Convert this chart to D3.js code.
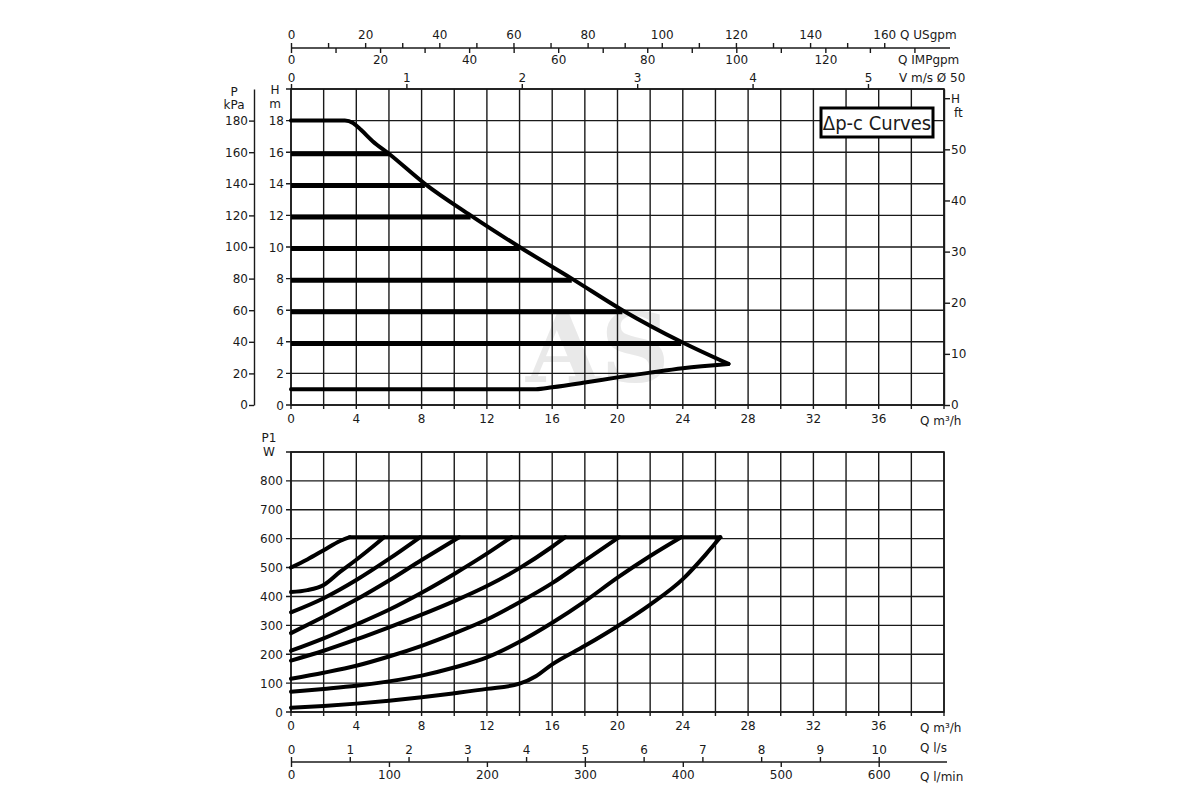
<!DOCTYPE html>
<html>
<head>
<meta charset="utf-8">
<script src="https://cdn.jsdelivr.net/npm/d3@7"></script>
<style>
  body { margin: 0; background: #fff; }
  svg text { font-family: "DejaVu Sans", sans-serif; font-size: 12px; fill: #1a1a1a; }
  .axis path, .axis line { stroke: #1a1a1a; stroke-width: 1.4; }
  .grid line { stroke: #1a1a1a; stroke-width: 1.4; }
  .curve { fill: none; stroke: #000; stroke-linejoin: round; stroke-linecap: round; }
</style>
</head>
<body>
<svg id="chart" width="1200" height="800"></svg>
<script>
// --- data ---
const qGrid = d3.range(0, 41, 2);              // m3/h, grid every 2
const qLabels = d3.range(0, 37, 4);
const headGrid = d3.range(0, 21, 2);           // m
const headLabels = d3.range(0, 19, 2);
const kpaLabels = d3.range(0, 181, 20);
const ftLabels = d3.range(0, 61, 10);
const usgpmTicks = d3.range(0, 161, 10);
const impgpmTicks = d3.range(0, 141, 10);
const velocityTicks = [0, 1, 2, 3, 4, 5];
const powerGrid = d3.range(0, 901, 100);       // W
const powerLabels = d3.range(0, 801, 100);
const lsTicks = d3.range(0, 11, 1);
const lminTicks = d3.range(0, 601, 100);

// constant-pressure set lines (H m) and where they meet the max curve (Q m3/h)
const setHeads = [15.9, 13.9, 11.9, 9.9, 7.9, 5.9, 3.9];
const setEnds = [6, 8.2, 11, 14, 17.2, 20.3, 23.9];

const headMax = [[0, 18], [3.3, 18], [3.8, 17.85], [4.3, 17.4], [5, 16.7], [6, 15.9],
  [8.2, 14], [11, 12], [14, 10], [17.2, 8], [20.3, 6], [23.9, 4], [26.8, 2.6]];
const headMin = [[0, 1], [15, 1], [16, 1.12], [18, 1.42], [20, 1.75], [22, 2.05],
  [24, 2.33], [26.8, 2.6]];

// P1 curves, one per set line (W)
const p1At18 = [[0, 500], [1, 528], [2, 560], [3, 592], [3.6, 605]];
const p1At16 = [[0, 415], [1, 422], [2, 440], [3, 485], [4, 527], [5, 572], [5.7, 605]];
const p1At14 = [[0, 345], [2, 394], [4, 457], [6, 530], [7.9, 605]];
const p1At12 = [[0, 273], [2, 330], [4, 389], [6, 455], [8, 526], [10.3, 605]];
const p1At10 = [[0, 212], [2, 255], [4, 303], [6, 354], [8, 413], [10, 478], [12, 548], [13.5, 605]];
const p1At8 = [[0, 178], [2, 212], [4, 251], [6, 293], [8, 337], [10, 384], [12, 436], [14, 498],
  [16, 572], [16.8, 605]];
const p1At6 = [[0, 115], [2, 136], [4, 160], [6, 192], [8, 229], [10, 272], [12, 320], [14, 380],
  [16, 446], [18, 524], [20.1, 605]];
const p1At4 = [[0, 70], [2, 80], [4, 91], [6, 106], [8, 126], [10, 154], [12, 189], [14, 243],
  [16, 309], [18, 383], [20, 465], [22, 540], [23.9, 605]];
const p1Min = [[0, 15], [2, 21], [4, 29], [6, 39], [8, 51], [10, 65], [12, 80], [14, 98],
  [15, 124], [16, 165], [18, 229], [20, 297], [22, 372], [24, 460], [25.4, 545], [26.3, 605]];
const p1Max = [[3.6, 605], [26.3, 605]];
const p1Curves = [p1At18, p1At16, p1At14, p1At12, p1At10, p1At8, p1At6, p1At4, p1Min];

// unit factors (per m3/h)
const M3H_PER_USGPM = 0.22712;
const M3H_PER_IMPGPM = 0.27277;
const M3H_PER_MS_D50 = 7.0686;   // 1 m/s in a 50 mm pipe
const FT_AT_TOP = 61.8;          // ft scale as printed on the right edge

// --- layout ---
const X0 = 291, X1 = 944;
const TOP_Y0 = 405, TOP_Y1 = 89;
const BOT_Y0 = 712, BOT_Y1 = 452;
const FLOW_AXIS_Y = 48;
const LS_AXIS_Y = 762;
const KPA_AXIS_X = 254;

const svg = d3.select('#chart');

const x = d3.scaleLinear().domain([0, 40]).range([X0, X1]);
const yH = d3.scaleLinear().domain([0, 20]).range([TOP_Y0, TOP_Y1]);
const yKpa = d3.scaleLinear().domain([0, 200]).range([TOP_Y0, TOP_Y1]);
const yFt = d3.scaleLinear().domain([0, FT_AT_TOP]).range([TOP_Y0, TOP_Y1]);
const yP = d3.scaleLinear().domain([0, 900]).range([BOT_Y0, BOT_Y1]);
const xUs = d3.scaleLinear().domain([0, 40 / M3H_PER_USGPM]).range([X0, X1]);
const xImp = d3.scaleLinear().domain([0, 40 / M3H_PER_IMPGPM]).range([X0, X1]);
const xV = d3.scaleLinear().domain([0, 40 / M3H_PER_MS_D50]).range([X0, X1]);
const xLs = d3.scaleLinear().domain([0, 40 / 3.6]).range([X0, X1]);
const xLmin = d3.scaleLinear().domain([0, 40 / 0.06]).range([X0, X1]);

function styleAxis(g) {
  g.attr('class', 'axis');
  g.selectAll('text').attr('fill', '#1a1a1a').attr('font-family', 'DejaVu Sans').attr('font-size', 12);
}

function grid(yScale, yValues, y0, y1) {
  const g = svg.append('g').attr('class', 'grid');
  g.selectAll('.v').data(qGrid).join('line')
    .attr('x1', d => x(d)).attr('x2', d => x(d))
    .attr('y1', y0 + 4).attr('y2', y1);
  g.selectAll('.h').data(yValues).join('line')
    .attr('x1', X0 - 5).attr('x2', X1)
    .attr('y1', d => yScale(d)).attr('y2', d => yScale(d));
  return g;
}

// faint watermark, kept behind the marks
svg.append('text').attr('x', 598).attr('y', 382).attr('text-anchor', 'middle')
  .style('font-family', '"DejaVu Serif", serif').style('font-size', '96px').style('font-weight', 'bold')
  .style('fill', '#cfcfcf').style('opacity', 0.45).text('AS');

// ---------- top chart ----------
grid(yH, headGrid, TOP_Y0, TOP_Y1);

// left H m labels
svg.append('g').selectAll('text').data(headLabels).join('text')
  .attr('x', X0 - 7).attr('y', d => yH(d) + 4.5)
  .attr('text-anchor', 'end').text(d => d);
svg.append('text').attr('x', X0 - 16).attr('y', yH(20) + 5).attr('text-anchor', 'middle').text('H');
svg.append('text').attr('x', X0 - 16).attr('y', yH(20) + 19).attr('text-anchor', 'middle').text('m');

// kPa axis
svg.append('g')
  .attr('transform', `translate(${KPA_AXIS_X},0)`)
  .call(d3.axisLeft(yKpa).tickValues(kpaLabels).tickSize(5).tickSizeOuter(0).tickPadding(1))
  .call(styleAxis);
svg.append('text').attr('x', 234).attr('y', 96).attr('text-anchor', 'middle').text('P');
svg.append('text').attr('x', 234).attr('y', 109).attr('text-anchor', 'middle').text('kPa');

// right ft axis
svg.append('g')
  .attr('transform', `translate(${X1},0)`)
  .call(d3.axisRight(yFt).tickValues(ftLabels).tickSize(6).tickSizeOuter(0).tickPadding(1)
    .tickFormat(d => (d === 60 ? 'H' : d)))
  .call(styleAxis);
svg.append('text').attr('x', 954).attr('y', 117).text('ft');

// bottom Q axis of top chart
svg.append('g').selectAll('text').data(qLabels).join('text')
  .attr('x', d => x(d)).attr('y', TOP_Y0 + 18).attr('text-anchor', 'middle').text(d => d);
svg.append('text').attr('x', 920).attr('y', TOP_Y0 + 20).html('Q m³/h');

// flow axes on top (US gpm up, IMP gpm down)
svg.append('g')
  .attr('transform', `translate(0,${FLOW_AXIS_Y})`)
  .call(d3.axisTop(xUs).tickValues(usgpmTicks).tickSize(5).tickSizeOuter(0).tickPadding(4)
    .tickFormat(d => (d % 20 === 0 ? d : '')))
  .call(g => g.select('.domain').attr('d', `M${X0},0H950`))
  .call(styleAxis);
svg.append('g')
  .attr('transform', `translate(0,${FLOW_AXIS_Y})`)
  .call(d3.axisBottom(xImp).tickValues(impgpmTicks).tickSize(5).tickSizeOuter(0).tickPadding(2)
    .tickFormat(d => (d % 20 === 0 && d <= 120 ? d : '')))
  .call(g => g.select('.domain').remove())
  .call(styleAxis);
svg.append('g')
  .attr('transform', `translate(0,${TOP_Y1})`)
  .call(d3.axisTop(xV).tickValues(velocityTicks).tickSize(5).tickSizeOuter(0).tickPadding(2)
    .tickFormat(d => d))
  .call(g => g.select('.domain').remove())
  .call(styleAxis);
svg.append('text').attr('x', 900).attr('y', 39).text('Q USgpm');
svg.append('text').attr('x', 898).attr('y', 64).text('Q IMPgpm');
svg.append('text').attr('x', 899).attr('y', 82).text('V m/s Ø 50');

// plot frame
svg.append('rect').attr('x', X0).attr('y', TOP_Y1).attr('width', X1 - X0).attr('height', TOP_Y0 - TOP_Y1)
  .attr('fill', 'none').attr('stroke', '#1a1a1a').attr('stroke-width', 1.6);

// set lines
const headLine = d3.line().x(d => x(d[0])).y(d => yH(d[1])).curve(d3.curveMonotoneX);
svg.append('g').selectAll('line').data(setHeads).join('line')
  .attr('x1', x(0)).attr('x2', (d, i) => x(setEnds[i]))
  .attr('y1', d => yH(d)).attr('y2', d => yH(d))
  .attr('stroke', '#000').attr('stroke-width', 5);
svg.append('path').datum(headMax).attr('class', 'curve').attr('d', headLine).attr('stroke-width', 4);
svg.append('path').datum(headMin).attr('class', 'curve').attr('d', headLine).attr('stroke-width', 4);

// legend box
svg.append('rect').attr('x', 821).attr('y', 108).attr('width', 112).attr('height', 29)
  .attr('fill', '#fff').attr('stroke', '#000').attr('stroke-width', 3);
svg.append('text').attr('x', 877).attr('y', 130).attr('text-anchor', 'middle')
  .style('font-family', '"Liberation Sans Narrow", "DejaVu Sans Condensed", sans-serif')
  .style('font-size', '20px').text('Δp-c Curves');

// ---------- bottom chart ----------
const bottomGrid = grid(yP, powerGrid, BOT_Y0, BOT_Y1);
bottomGrid.selectAll('line').filter(d => d === 800).attr('stroke-width', 2.2).attr('stroke', '#000');
bottomGrid.selectAll('line').filter(d => d === 600).attr('stroke', '#888');

svg.append('g').selectAll('text').data(powerLabels).join('text')
  .attr('x', X0 - 8).attr('y', d => yP(d) + 4.5)
  .attr('text-anchor', 'end').text(d => d);
svg.append('text').attr('x', 269).attr('y', 442).attr('text-anchor', 'middle').text('P1');
svg.append('text').attr('x', 269).attr('y', 456).attr('text-anchor', 'middle').text('W');

svg.append('rect').attr('x', X0).attr('y', BOT_Y1).attr('width', X1 - X0).attr('height', BOT_Y0 - BOT_Y1)
  .attr('fill', 'none').attr('stroke', '#1a1a1a').attr('stroke-width', 1.6);

svg.append('g').selectAll('text').data(qLabels).join('text')
  .attr('x', d => x(d)).attr('y', BOT_Y0 + 18).attr('text-anchor', 'middle').text(d => d);
svg.append('text').attr('x', 920).attr('y', BOT_Y0 + 20).html('Q m³/h');

// l/s (up) and l/min (down) share one line
svg.append('g')
  .attr('transform', `translate(0,${LS_AXIS_Y})`)
  .call(d3.axisTop(xLs).tickValues(lsTicks).tickSize(5).tickSizeOuter(0).tickPadding(3))
  .call(g => g.select('.domain').attr('d', `M${X0},0H947`))
  .call(styleAxis);
svg.append('g')
  .attr('transform', `translate(0,${LS_AXIS_Y})`)
  .call(d3.axisBottom(xLmin).tickValues(lminTicks).tickSize(5).tickSizeOuter(0).tickPadding(3))
  .call(g => g.select('.domain').remove())
  .call(styleAxis);
svg.append('text').attr('x', 920).attr('y', 752).text('Q l/s');
svg.append('text').attr('x', 920).attr('y', 781).text('Q l/min');

const powerLine = d3.line().x(d => x(d[0])).y(d => yP(d[1])).curve(d3.curveMonotoneX);
svg.append('g').selectAll('path').data(p1Curves).join('path')
  .attr('class', 'curve').attr('d', powerLine).attr('stroke-width', 4);
svg.append('path').datum(p1Max).attr('class', 'curve').attr('d', powerLine).attr('stroke-width', 4);
</script>
</body>
</html>
